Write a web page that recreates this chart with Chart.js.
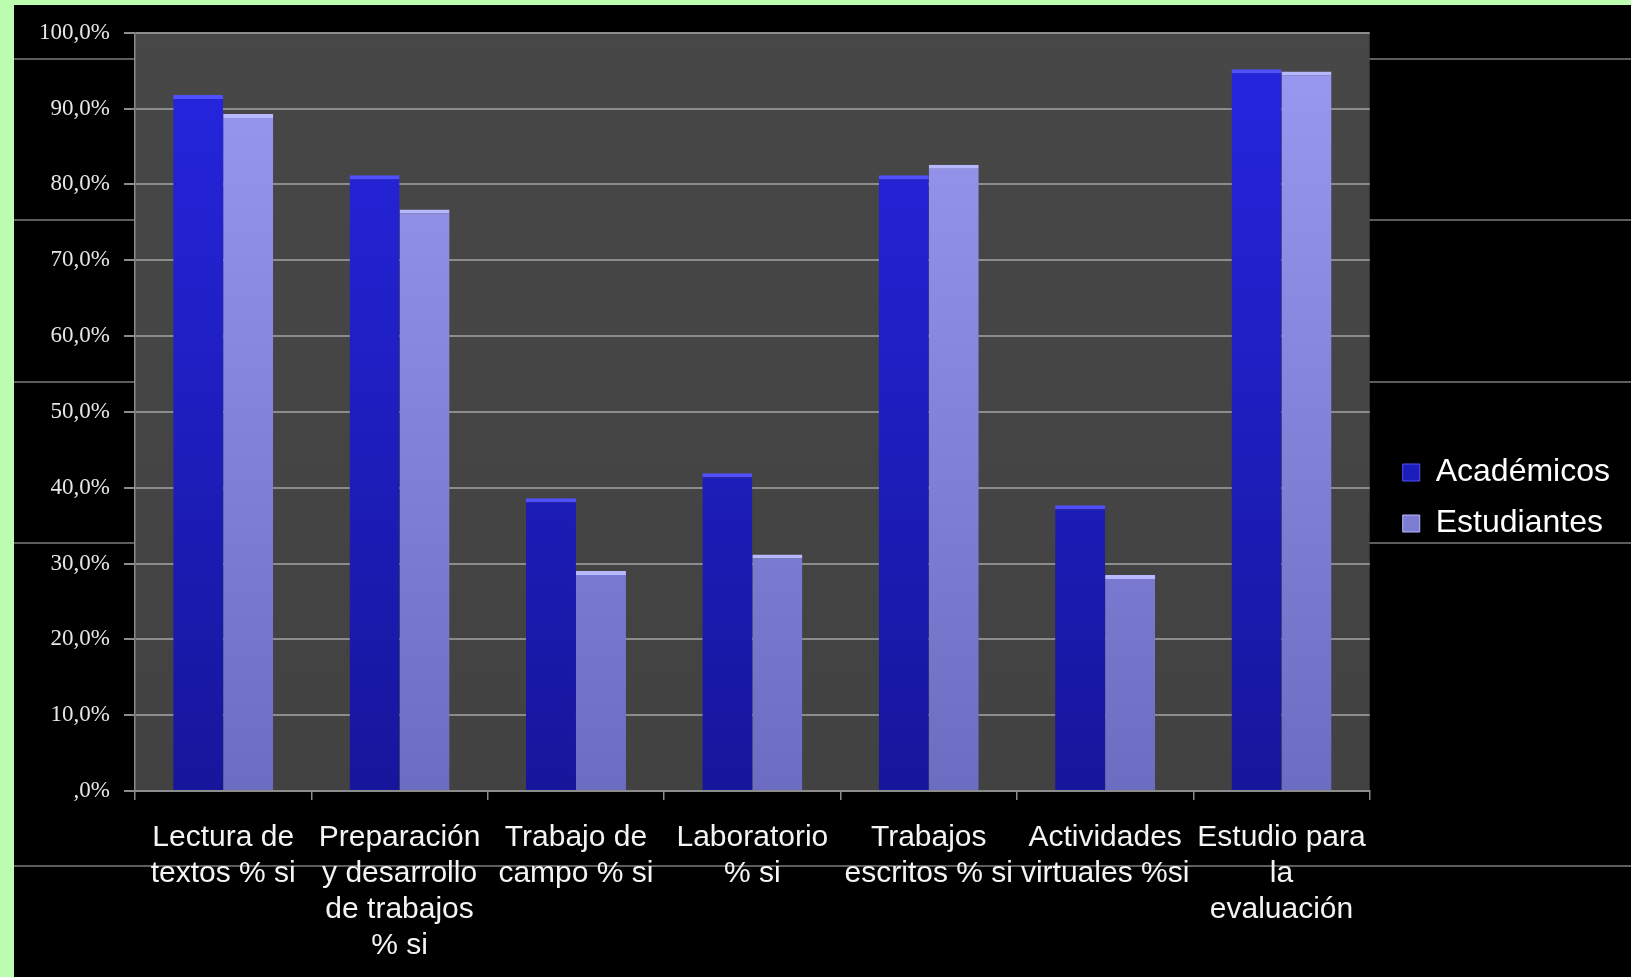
<!DOCTYPE html>
<html lang="es">
<head>
<meta charset="utf-8">
<title>Académicos y Estudiantes</title>
<script src="https://cdn.jsdelivr.net/npm/chart.js@4.4.1/dist/chart.umd.min.js"></script>
<style>
  html, body { margin: 0; padding: 0; background: #bcfdb0; overflow: hidden; }
  #wrap { position: absolute; left: 14px; top: 5px; width: 1617px; height: 972px; background: #000; }
</style>
</head>
<body>
<div id="wrap"><canvas id="chart"></canvas></div>
<script>
// categorías del eje X (en varias líneas, como en la diapositiva)
const CATEGORIES = [
  ["Lectura de", "textos % si"],
  ["Preparación", "y desarrollo", "de trabajos", "% si"],
  ["Trabajo de", "campo % si"],
  ["Laboratorio", "% si"],
  ["Trabajos", "escritos % si"],
  ["Actividades", "virtuales %si"],
  ["Estudio para", "la", "evaluación"],
];
const SERIES_NAMES = ["Académicos", "Estudiantes"];
const ACADEMICOS = [91.8, 81.2, 38.6, 41.9, 81.2, 37.7, 95.2];
const ESTUDIANTES = [89.3, 76.7, 29.0, 31.2, 82.6, 28.5, 94.9];
const Y_TICK_LABELS = [",0%", "10,0%", "20,0%", "30,0%", "40,0%", "50,0%",
  "60,0%", "70,0%", "80,0%", "90,0%", "100,0%"];

// degradado vertical de las barras
function barGradient(top, bottom) {
  return (ctx) => {
    const area = ctx.chart.chartArea;
    if (!area) return bottom;
    const g = ctx.chart.ctx.createLinearGradient(0, area.top, 0, area.bottom);
    g.addColorStop(0, top);
    g.addColorStop(1, bottom);
    return g;
  };
}

// fondo negro con las rayas de la diapositiva y el área de trazado gris
const slideBackground = {
  id: "slideBackground",
  beforeDraw(chart) {
    const { ctx, width, height, chartArea } = chart;
    ctx.save();
    ctx.fillStyle = "#000";
    ctx.fillRect(0, 0, width, height);
    ctx.strokeStyle = "#7c7c7c";
    ctx.lineWidth = 1.5;
    for (const y of [54, 215, 377, 538, 861]) {
      ctx.beginPath();
      ctx.moveTo(0, y);
      ctx.lineTo(width, y);
      ctx.stroke();
    }
    const g = ctx.createLinearGradient(0, chartArea.top, 0, chartArea.bottom);
    g.addColorStop(0, "#474747");
    g.addColorStop(1, "#424242");
    ctx.fillStyle = g;
    ctx.fillRect(chartArea.left, chartArea.top, chartArea.width, chartArea.height);
    ctx.restore();
  },
};

// la leyenda queda un poco separada del área de trazado
const legendNudge = {
  id: "legendNudge",
  afterLayout(chart) {
    const l = chart.legend;
    if (!l) return;
    l.left += 14; l.right += 14;
    l.top -= 6; l.bottom -= 6;
  },
};

new Chart(document.getElementById("chart"), {
  type: "bar",
  data: {
    labels: CATEGORIES,
    datasets: [
      {
        label: SERIES_NAMES[0],
        data: ACADEMICOS,
        backgroundColor: barGradient("#2626e2", "#16169c"),
        borderColor: "#5050ff",
        borderWidth: { top: 4, right: 0, bottom: 0, left: 0 },
        borderSkipped: false,
      },
      {
        label: SERIES_NAMES[1],
        data: ESTUDIANTES,
        backgroundColor: barGradient("#9a9af2", "#6c6cc2"),
        borderColor: "#b8b8ff",
        borderWidth: { top: 4, right: 0, bottom: 0, left: 0 },
        borderSkipped: false,
      },
    ],
  },
  options: {
    responsive: true,
    maintainAspectRatio: false,
    animation: false,
    layout: { padding: { top: 26, left: 0, right: 25, bottom: 0 } },
    datasets: { bar: { categoryPercentage: 0.567, barPercentage: 1.0 } },
    plugins: {
      tooltip: { enabled: false },
      legend: {
        position: "right",
        labels: {
          color: "#ffffff",
          font: { family: "'Liberation Sans', Arial, sans-serif", size: 32 },
          boxWidth: 17,
          boxHeight: 17,
          padding: 19,
        },
      },
    },
    scales: {
      x: {
        afterFit: (s) => { s.height = 186; },
        grid: { drawOnChartArea: false, color: "#8c8c8c", lineWidth: 1.5, tickLength: 9 },
        border: { color: "#8c8c8c", width: 2 },
        ticks: {
          color: "#f4f4f4",
          autoSkip: false,
          maxRotation: 0,
          padding: 20,
          font: { family: "'Liberation Sans', Arial, sans-serif", size: 30, lineHeight: 1.2 },
        },
      },
      y: {
        min: 0,
        max: 100,
        afterFit: (s) => { s.width = 121; },
        grid: { color: "#8c8c8c", lineWidth: 2, tickLength: 11 },
        border: { color: "#8a8a8a", width: 1.5 },
        ticks: {
          stepSize: 10,
          color: "#e6e6e6",
          padding: 14,
          font: { family: "'Liberation Serif', 'Times New Roman', serif", size: 23 },
          callback: (value) => Y_TICK_LABELS[Math.round(value / 10)],
        },
      },
    },
  },
  plugins: [slideBackground, legendNudge],
});
</script>
</body>
</html>
